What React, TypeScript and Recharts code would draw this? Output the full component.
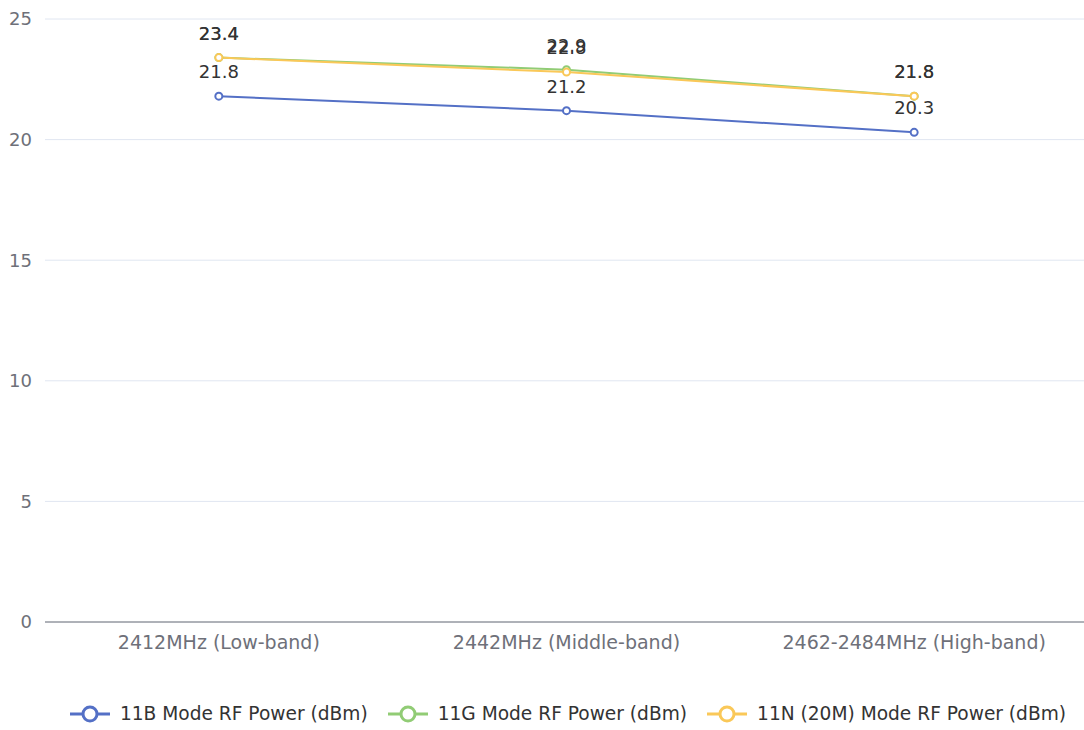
import { LineChart, Line, XAxis, YAxis, CartesianGrid, LabelList } from 'recharts'

const categories = ['2412MHz (Low-band)', '2442MHz (Middle-band)', '2462-2484MHz (High-band)']
const modeB = [21.8, 21.2, 20.3]
const modeG = [23.4, 22.9, 21.8]
const modeN = [23.4, 22.8, 21.8]
const yTicks = [0, 5, 10, 15, 20, 25]

const series = [
  { key: 'b', name: '11B Mode RF Power (dBm)', color: '#5470c6' },
  { key: 'g', name: '11G Mode RF Power (dBm)', color: '#91cc75' },
  { key: 'n', name: '11N (20M) Mode RF Power (dBm)', color: '#fac858' },
]

// points sit in the middle of each category band, like a boundary-gap axis
const data = categories.map((name, i) => ({
  x: i + 0.5,
  name,
  b: modeB[i],
  g: modeG[i],
  n: modeN[i],
}))

const AXIS = '#6e7079'
const FONT = 'DejaVu Sans'

function LegendIcon({ color }: { color: string }) {
  return (
    <svg width={40} height={20} style={{ display: 'block' }}>
      <line x1={0} y1={10} x2={40} y2={10} stroke={color} strokeWidth={3} />
      <circle cx={20} cy={10} r={7} fill="#fff" stroke={color} strokeWidth={3} />
    </svg>
  )
}

export default function App() {
  return (
    <div
      style={{
        position: 'absolute',
        left: 0,
        top: 0,
        width: 1084,
        height: 730,
        overflow: 'hidden',
        background: '#fff',
        fontFamily: FONT,
      }}
    >
      <LineChart
        width={1090}
        height={730}
        data={data}
        margin={{ top: 19, right: 2, left: 0, bottom: 77 }}
      >
        <CartesianGrid vertical={false} stroke="#e0e6f1" />
        <XAxis
          xAxisId="a_line"
          type="number"
          dataKey="x"
          domain={[0, 3]}
          ticks={[0, 1, 2, 3]}
          tick={false}
          tickSize={6}
          tickLine={{ stroke: AXIS }}
          axisLine={{ stroke: AXIS }}
          height={1}
        />
        <XAxis
          xAxisId="b_cat"
          type="number"
          dataKey="x"
          domain={[0, 3]}
          ticks={[0.5, 1.5, 2.5]}
          tickFormatter={(v: number) => categories[Math.floor(v)]}
          tick={{ fill: AXIS, fontSize: 19 }}
          tickLine={false}
          axisLine={false}
          tickMargin={7}
          height={30}
        />
        <YAxis
          domain={[0, 25]}
          ticks={yTicks}
          width={45}
          tick={{ fill: AXIS, fontSize: 18 }}
          tickLine={false}
          axisLine={false}
          tickMargin={7}
        />
        {series.map((s) => (
          <Line
            key={s.key}
            xAxisId="b_cat"
            type="linear"
            dataKey={s.key}
            name={s.name}
            stroke={s.color}
            strokeWidth={2}
            dot={{ r: 3.5, fill: '#fff', stroke: s.color, strokeWidth: 2 }}
            isAnimationActive={false}
          >
            <LabelList dataKey={s.key} position="top" offset={18} fill="#333" fontSize={18} />
          </Line>
        ))}
      </LineChart>
      <div
        style={{
          position: 'absolute',
          left: 0,
          top: 702,
          width: 1136,
          display: 'flex',
          justifyContent: 'center',
          gap: 20,
          fontSize: 18.6,
          color: '#333',
          lineHeight: '24px',
        }}
      >
        {series.map((s) => (
          <div key={s.key} style={{ display: 'flex', alignItems: 'center', gap: 10 }}>
            <LegendIcon color={s.color} />
            <span>{s.name}</span>
          </div>
        ))}
      </div>
    </div>
  )
}
